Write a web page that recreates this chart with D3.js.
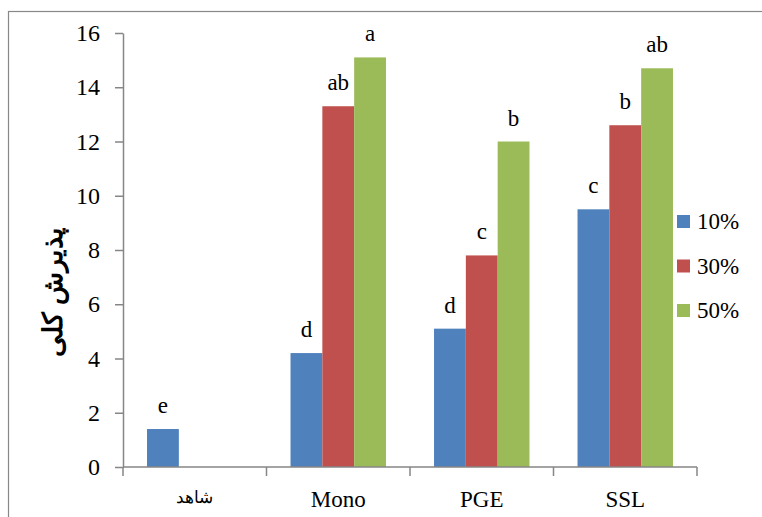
<!DOCTYPE html>
<html lang="en">
<head>
<meta charset="utf-8">
<script src="https://cdn.jsdelivr.net/npm/d3@7"></script>
</head>
<body style="margin:0">
<svg id="chart" width="762" height="517"></svg>
<script>
// data
var categories = ['شاهد', 'Mono', 'PGE', 'SSL'];
var seriesNames = ['10%', '30%', '50%'];
var v10 = [1.4, 4.2, 5.1, 9.5];
var v30 = [null, 13.3, 7.8, 12.6];
var v50 = [null, 15.1, 12.0, 14.7];
var l10 = ['e', 'd', 'd', 'c'];
var l30 = ['', 'ab', 'c', 'b'];
var l50 = ['', 'a', 'b', 'ab'];
var yTicks = [0, 2, 4, 6, 8, 10, 12, 14, 16];

var colors = ['#4F81BD', '#C0504D', '#9BBB59'];
var seriesVals = [v10, v30, v50];
var seriesLabels = [l10, l30, l50];

var serif = "'Liberation Serif'";

var svg = d3.select('#chart');

// outer frame
svg.append('rect')
  .attr('x', 8.5).attr('y', 11.5)
  .attr('width', 780).attr('height', 540)
  .attr('fill', 'none')
  .attr('stroke', '#888')
  .attr('stroke-width', 1.2);

var pLeft = 123, pRight = 697, pTop = 33, pBottom = 467;

var x = d3.scaleBand().domain(categories).range([pLeft, pRight]).paddingInner(0).paddingOuter(0);
var inner = d3.scaleBand().domain(seriesNames).range([0, x.bandwidth()]).paddingInner(0).paddingOuter(0.755);
var y = d3.scaleLinear().domain([0, 16]).range([pBottom, pTop]);

// bars
var bars = [];
categories.forEach(function(c, i) {
  seriesNames.forEach(function(s, j) {
    var v = seriesVals[j][i];
    if (v != null) bars.push({cat: c, ser: s, j: j, value: v, label: seriesLabels[j][i]});
  });
});

svg.append('g').selectAll('rect')
  .data(bars)
  .enter()
  .append('rect')
  .attr('x', function(d) { return x(d.cat) + inner(d.ser); })
  .attr('y', function(d) { return y(d.value); })
  .attr('width', inner.bandwidth())
  .attr('height', function(d) { return pBottom - y(d.value); })
  .attr('fill', function(d) { return colors[d.j]; });

svg.append('g').selectAll('text')
  .data(bars)
  .enter()
  .append('text')
  .attr('x', function(d) { return x(d.cat) + inner(d.ser) + inner.bandwidth() / 2; })
  .attr('y', function(d) { return y(d.value) - 16; })
  .attr('text-anchor', 'middle')
  .style('font-family', serif)
  .style('font-size', '23px')
  .style('fill', '#000')
  .text(function(d) { return d.label; });

// y axis
var yAxis = svg.append('g')
  .attr('transform', 'translate(' + pLeft + ',0)')
  .call(d3.axisLeft(y).tickValues(yTicks).tickSize(8).tickPadding(15).tickSizeOuter(0));
yAxis.attr('font-family', null).attr('font-size', null);
yAxis.selectAll('text')
  .style('font-family', serif)
  .style('font-size', '24px')
  .style('fill', '#000');
yAxis.select('.domain').attr('stroke', '#868686').attr('stroke-width', 1.5);
yAxis.selectAll('.tick line').attr('stroke', '#868686').attr('stroke-width', 1.5);

// x axis, ticks at category boundaries
var xg = svg.append('g').attr('stroke', '#868686').attr('stroke-width', 1.5);
xg.append('line')
  .attr('x1', pLeft).attr('x2', pRight)
  .attr('y1', pBottom).attr('y2', pBottom);
var bounds = categories.map(function(c) { return x(c); }).concat([pRight]);
xg.selectAll('line.tk')
  .data(bounds)
  .enter()
  .append('line')
  .attr('class', 'tk')
  .attr('x1', function(d) { return d; }).attr('x2', function(d) { return d; })
  .attr('y1', pBottom).attr('y2', pBottom + 9);

svg.append('g').selectAll('text')
  .data(categories)
  .enter()
  .append('text')
  .attr('lang', function(d, i) { return i === 0 ? 'fa' : 'en'; })
  .attr('x', function(d) { return x(d) + x.bandwidth() / 2; })
  .attr('y', function(d, i) { return i === 0 ? 503 : 507; })
  .attr('text-anchor', 'middle')
  .style('font-family', serif)
  .style('font-size', function(d, i) { return i === 0 ? '17px' : '23px'; })
  .text(function(d) { return d; });

// y label
svg.append('text')
  .attr('lang', 'fa')
  .attr('transform', 'translate(62,292) rotate(-90)')
  .attr('text-anchor', 'middle')
  .style('font-family', serif)
  .style('font-weight', 'bold')
  .style('font-size', '27px')
  .text('پذیرش کلی');

// legend
var legend = svg.append('g').selectAll('g')
  .data(seriesNames)
  .enter()
  .append('g')
  .attr('transform', function(d, i) { return 'translate(677,' + (215 + i * 44.5) + ')'; });
legend.append('rect')
  .attr('width', 13).attr('height', 13)
  .attr('fill', function(d, i) { return colors[i]; });
legend.append('text')
  .attr('x', 20).attr('y', 14)
  .style('font-family', serif)
  .style('font-size', '23px')
  .text(function(d) { return d; });
</script>
</body>
</html>
